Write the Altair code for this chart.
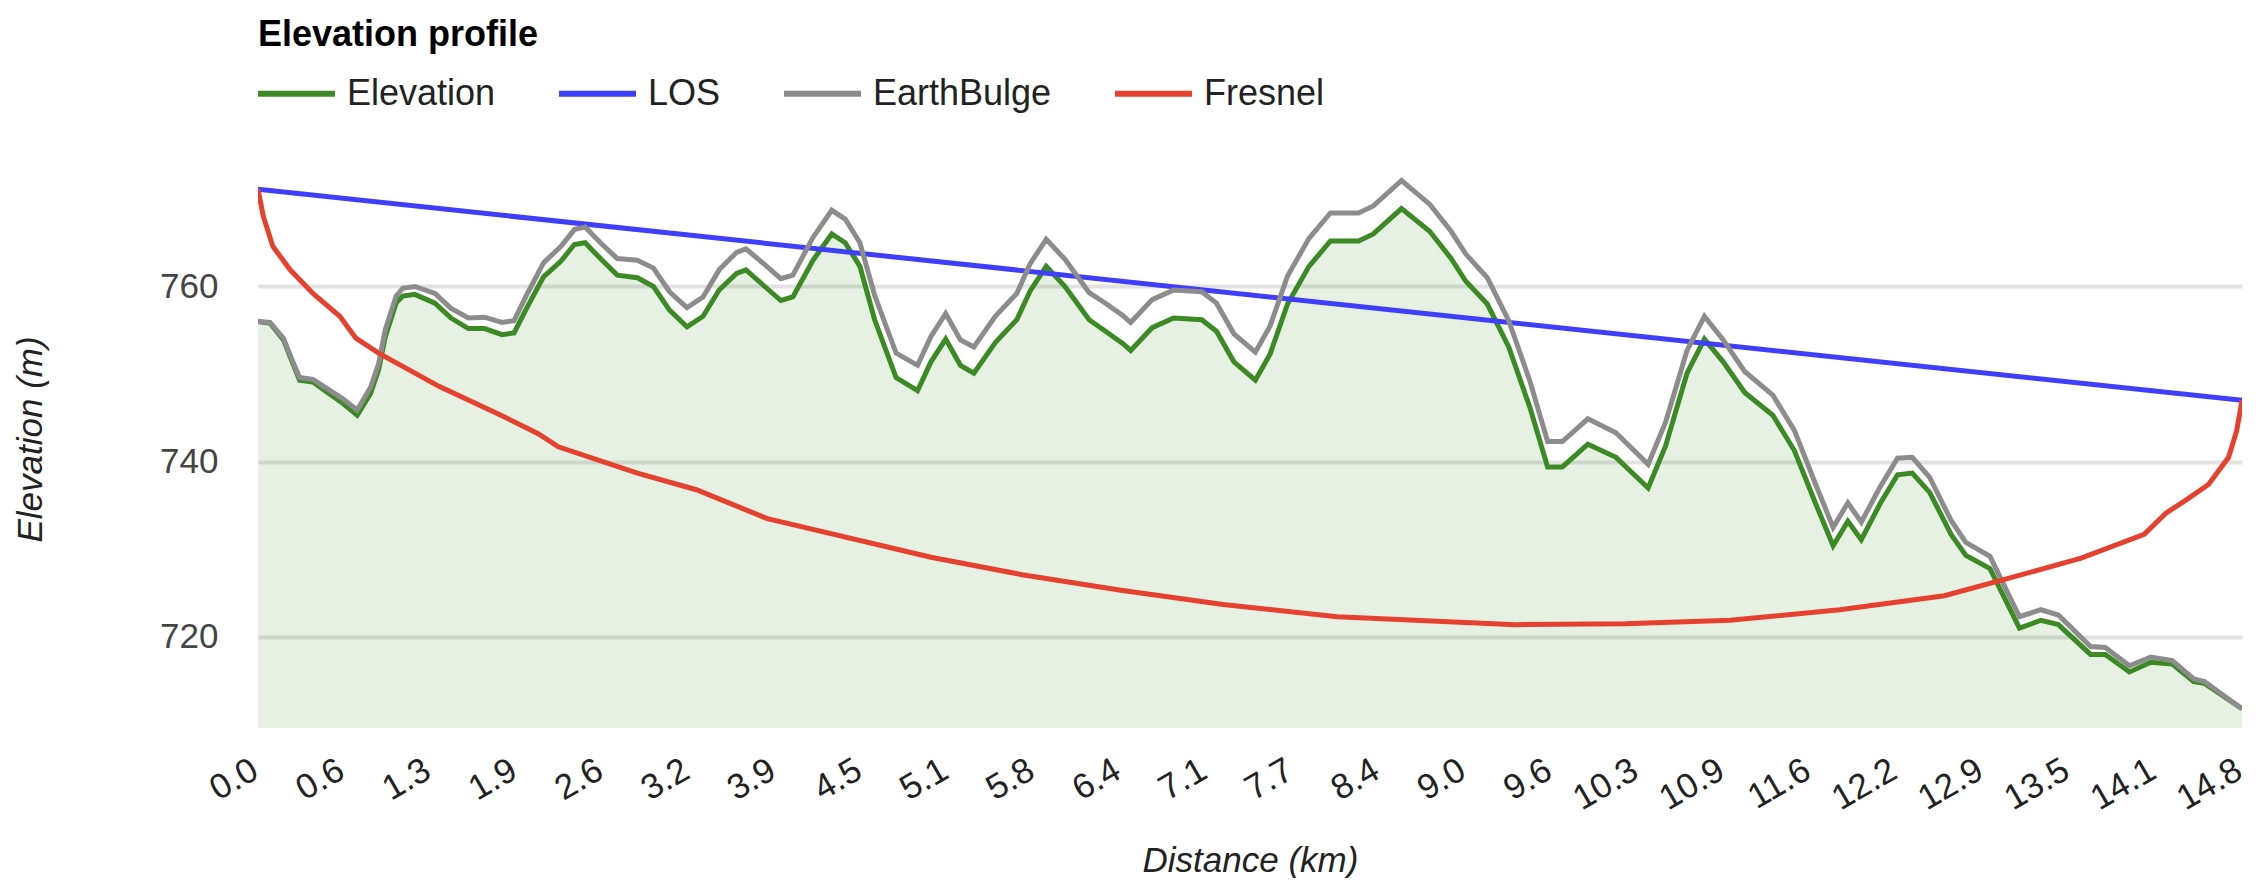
import json
import altair as alt
import pandas as pd

# ---- data ----
distance_km = [0.00, 0.09, 0.19, 0.26, 0.31, 0.41, 0.51, 0.63, 0.74, 0.84, 0.90, 0.95, 1.03, 1.08, 1.17,
               1.32, 1.44, 1.57, 1.69, 1.82, 1.91, 2.01, 2.13, 2.26, 2.36, 2.44, 2.56, 2.68, 2.83, 2.95,
               3.07, 3.20, 3.32, 3.44, 3.57, 3.64, 3.78, 3.90, 3.99, 4.14, 4.28, 4.38, 4.49, 4.60, 4.76,
               4.92, 5.02, 5.13, 5.24, 5.34, 5.50, 5.66, 5.76, 5.88, 6.02, 6.20, 6.33, 6.45, 6.51, 6.67,
               6.83, 7.04, 7.15, 7.28, 7.44, 7.55, 7.68, 7.84, 8.00, 8.21, 8.32, 8.53, 8.74, 8.90, 9.01,
               9.17, 9.33, 9.49, 9.62, 9.73, 9.92, 10.13, 10.37, 10.50, 10.66, 10.79, 10.93, 11.09, 11.30,
               11.46, 11.62, 11.75, 11.86, 11.96, 12.10, 12.23, 12.34, 12.47, 12.63, 12.74, 12.92, 13.14,
               13.30, 13.43, 13.67, 13.78, 13.96, 14.12, 14.28, 14.44, 14.52, 14.80]

elevation_m = [756.0, 755.8, 753.9, 751.2, 749.3, 749.1, 748.0, 746.7, 745.3, 747.8, 750.5, 754.3, 758.1, 758.9, 759.1,
               758.1, 756.4, 755.2, 755.2, 754.5, 754.7, 757.7, 761.1, 762.9, 764.8, 765.0, 763.1, 761.3, 761.0, 760.0,
               757.3, 755.4, 756.6, 759.6, 761.5, 761.9, 760.0, 758.4, 758.8, 763.0, 766.0, 765.0, 762.3, 756.2, 749.6,
               748.1, 751.4, 754.0, 751.0, 750.1, 753.6, 756.2, 759.5, 762.3, 760.0, 756.2, 754.8, 753.5, 752.7, 755.3,
               756.4, 756.2, 754.9, 751.4, 749.3, 752.3, 758.0, 762.3, 765.2, 765.2, 766.0, 768.9, 766.3, 763.2, 760.6,
               758.0, 753.1, 746.1, 739.4, 739.4, 742.0, 740.5, 737.0, 741.8, 750.1, 754.0, 751.4, 747.9, 745.3,
               741.3, 735.2, 730.4, 733.2, 731.1, 735.2, 738.5, 738.7, 736.5, 731.7, 729.3, 727.8, 721.0,
               721.9, 721.4, 718.0, 718.0, 716.0, 717.1, 716.9, 714.9, 714.7, 711.8]

earthbulge_m = [756.0, 755.9, 754.1, 751.4, 749.6, 749.4, 748.4, 747.2, 745.9, 748.5, 751.2, 755.1, 758.9, 759.8, 760.0,
                759.2, 757.5, 756.4, 756.5, 755.9, 756.1, 759.2, 762.7, 764.6, 766.5, 766.8, 764.9, 763.2, 763.0, 762.1,
                759.4, 757.6, 758.8, 761.9, 763.9, 764.3, 762.5, 760.9, 761.3, 765.6, 768.7, 767.7, 765.0, 759.0, 752.4,
                751.0, 754.3, 756.9, 753.9, 753.1, 756.6, 759.2, 762.6, 765.4, 763.1, 759.3, 758.0, 756.7, 755.9, 758.5,
                759.6, 759.4, 758.1, 754.6, 752.5, 755.5, 761.2, 765.5, 768.4, 768.4, 769.2, 772.1, 769.4, 766.3, 763.7,
                761.0, 756.1, 749.1, 742.3, 742.3, 744.9, 743.3, 739.7, 744.5, 752.7, 756.6, 753.9, 750.3, 747.6,
                743.6, 737.4, 732.5, 735.3, 733.1, 737.1, 740.4, 740.5, 738.2, 733.3, 730.8, 729.2, 722.3,
                723.1, 722.5, 718.9, 718.8, 716.7, 717.7, 717.3, 715.2, 714.9, 711.8]

los_km = [0.0, 14.8]
los_m = [771.1, 747.0]

fresnel_km = [0.00, 0.04, 0.11, 0.24, 0.41, 0.61, 0.73, 0.90, 1.35, 1.84, 2.09, 2.24, 2.83, 3.27, 3.80,
              5.02, 5.70, 6.45, 7.20, 8.05, 9.38, 10.20, 10.98, 11.80, 12.58, 13.11, 13.60, 14.07, 14.23,
              14.39, 14.55, 14.70, 14.76, 14.80]
fresnel_m = [771.1, 768.0, 764.6, 761.9, 759.2, 756.6, 754.1, 752.4, 748.6, 745.1, 743.2, 741.7, 738.7, 736.8, 733.5,
             729.1, 727.1, 725.3, 723.7, 722.3, 721.4, 721.5, 721.9, 723.1, 724.7, 726.9, 729.0, 731.7, 734.1,
             735.7, 737.4, 740.5, 743.5, 747.0]

tick_labels = ["0.0", "0.6", "1.3", "1.9", "2.6", "3.2", "3.9", "4.5", "5.1", "5.8", "6.4", "7.1",
               "7.7", "8.4", "9.0", "9.6", "10.3", "10.9", "11.6", "12.2", "12.9", "13.5", "14.1", "14.8"]
y_ticks = [720, 740, 760]

series_names = ["Elevation", "LOS", "EarthBulge", "Fresnel"]
series_colors = ["#3b8a23", "#3f3ffb", "#8c8c8c", "#e6402e"]
area_color = "#3b8a23"

x_max = 14.8
y_domain = [709.6, 772.5]

# ---- tables ----
rows = []
for d, v in zip(distance_km, elevation_m):
    rows.append({"d": d, "v": v, "series": "Elevation"})
for d, v in zip(los_km, los_m):
    rows.append({"d": d, "v": v, "series": "LOS"})
for d, v in zip(distance_km, earthbulge_m):
    rows.append({"d": d, "v": v, "series": "EarthBulge"})
for d, v in zip(fresnel_km, fresnel_m):
    rows.append({"d": d, "v": v, "series": "Fresnel"})
lines_df = pd.DataFrame(rows)
area_df = pd.DataFrame({"d": distance_km, "v": elevation_m})

n = len(tick_labels) - 1
tick_pos = [i * x_max / n for i in range(n + 1)]
label_expr = f"{json.dumps(tick_labels)}[round(datum.value * {n} / {x_max})]"

FONT = "Liberation Sans"

x_enc = alt.X(
    "d:Q",
    scale=alt.Scale(domain=[0, x_max], nice=False, zero=False),
    axis=alt.Axis(
        values=tick_pos, labelExpr=label_expr, grid=False, ticks=False, domain=False,
        labelAngle=330, labelAlign="right", labelBaseline="top", labelPadding=24,
        labelOffset=-12, labelFontSize=35, labelFont=FONT, labelColor="#222222",
        labelOverlap=False, labelLimit=0, labelBound=False, labelFlush=False,
        title="Distance (km)", titleFont=FONT, titleFontSize=35, titleFontStyle="italic",
        titleFontWeight="normal", titleColor="#222222", titleY=132, titleBaseline="middle",
    ),
)
y_enc = alt.Y(
    "v:Q",
    scale=alt.Scale(domain=y_domain, nice=False, zero=False),
    axis=alt.Axis(
        values=y_ticks, grid=True, gridColor="#e2e2e2", gridWidth=4, ticks=False, domain=False,
        labelFontSize=35, labelFont=FONT, labelColor="#444444", labelPadding=40, format="d",
        title="Elevation (m)", titleFont=FONT, titleFontSize=35, titleFontStyle="italic",
        titleFontWeight="normal", titleColor="#222222", titleAngle=270, titleAlign="center",
        titleBaseline="middle", titleX=-228, titleY=262,
    ),
)

area = alt.Chart(area_df).mark_area(color=area_color, opacity=0.13, clip=True).encode(
    x=x_enc, y=y_enc
)

lines = alt.Chart(lines_df).mark_line(strokeWidth=5, clip=True).encode(
    x=x_enc,
    y=y_enc,
    order=alt.Order("d:Q"),
    color=alt.Color(
        "series:N",
        scale=alt.Scale(domain=series_names, range=series_colors),
        sort=series_names,
        legend=alt.Legend(
            title=None, orient="none", direction="horizontal", legendX=-3, legendY=-125,
            symbolType="stroke", symbolSize=5929, symbolStrokeWidth=6,
            labelFontSize=36, labelFont=FONT, labelColor="#222222", labelOffset=9,
            labelLimit=0, columnPadding=51,
        ),
    ),
)

chart = alt.layer(area, lines).properties(
    width=1984,
    height=551,
    padding={"left": 250, "top": 169, "right": 8, "bottom": 150},
    autosize=alt.AutoSizeParams(type="none"),
    background="white",
    title=alt.Title(
        "Elevation profile", anchor="start", frame="group", fontSize=36, fontWeight="bold",
        font=FONT, color="#000000", offset=-2,
    ),
).configure_view(stroke=None)

chart.save("out.html", embed_options={"renderer": "svg", "actions": False})
